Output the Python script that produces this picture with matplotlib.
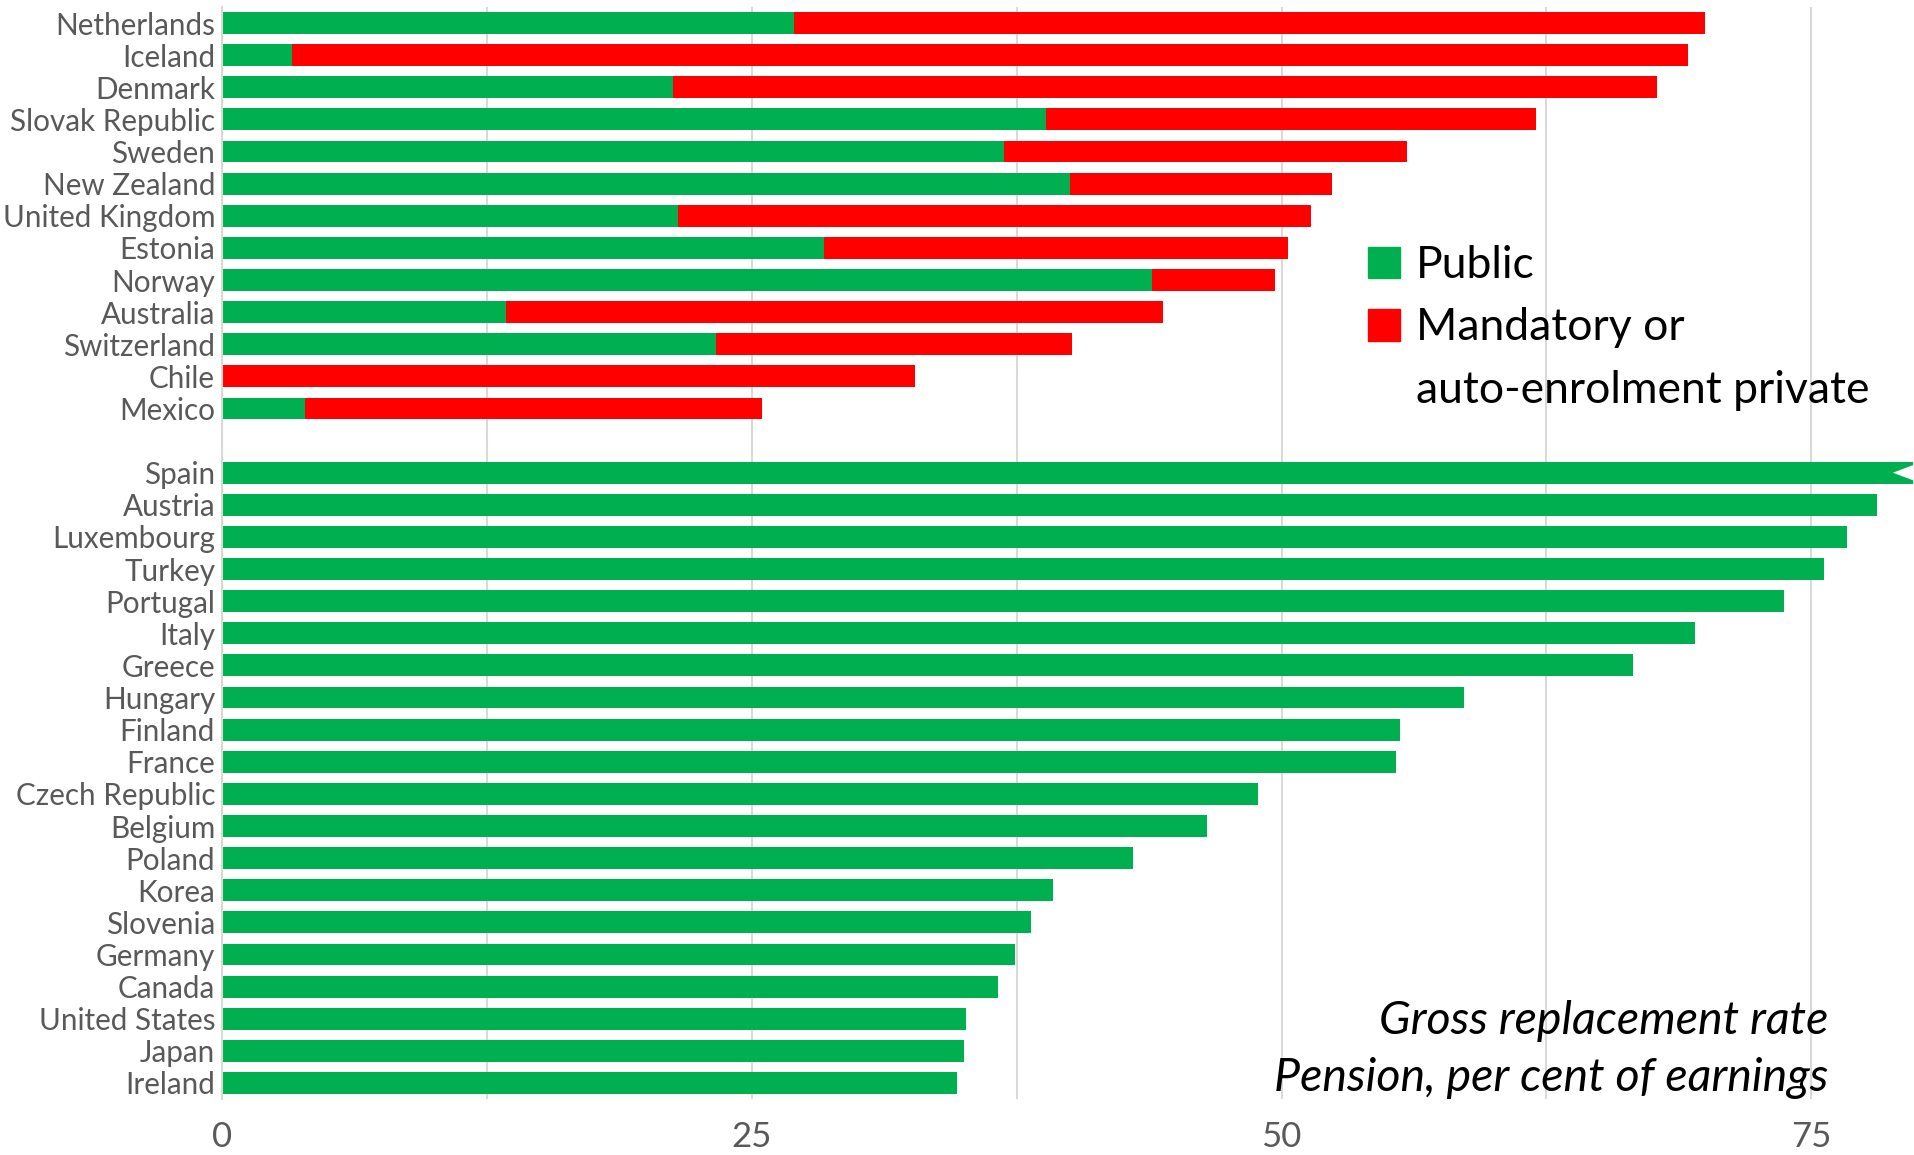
"""
Gross pension replacement rates: public vs mandatory / auto-enrolment private.
Writes out.png.
"""

import matplotlib
matplotlib.use("Agg")
import matplotlib.pyplot as plt
from matplotlib.patches import Polygon, Patch
import numpy as np

plt.rcParams["font.family"] = ["Lato", "DejaVu Sans"]

GREEN = "#00B050"
RED = "#FF0000"
GRID = "#D9D9D9"
LABEL = "#595959"

# countries with a mandatory / auto-enrolment private scheme
mixed_countries = ["Netherlands", "Iceland", "Denmark", "Slovak Republic", "Sweden",
                   "New Zealand", "United Kingdom", "Estonia", "Norway", "Australia",
                   "Switzerland", "Chile", "Mexico"]
mixed_public = [27.0, 3.3, 21.3, 38.9, 36.9, 40.0, 21.5, 28.4, 43.9, 13.4, 23.3, 0.0, 3.9]
mixed_private = [43.0, 65.9, 46.4, 23.1, 19.0, 12.4, 29.9, 21.9, 5.8, 31.0, 16.8, 32.7, 21.6]

# public-only countries
public_countries = ["Spain", "Austria", "Luxembourg", "Turkey", "Portugal", "Italy",
                    "Greece", "Hungary", "Finland", "France", "Czech Republic", "Belgium",
                    "Poland", "Korea", "Slovenia", "Germany", "Canada", "United States",
                    "Japan", "Ireland"]
public_only = [81.8, 78.1, 76.7, 75.6, 73.7, 69.5, 66.6, 58.6, 55.6, 55.4, 48.9, 46.5,
               43.0, 39.2, 38.2, 37.4, 36.6, 35.1, 35.0, 34.7]

XMAX = 79.8
H = 0.68


def main():
    fig = plt.figure(figsize=(19.15, 11.55), dpi=100)
    ax = fig.add_axes([222 / 1915, 56 / 1155, 1691 / 1915, 1092 / 1155])

    n1 = len(mixed_countries)
    y1 = np.arange(n1)
    y2 = np.arange(len(public_countries)) + n1 + 1  # one empty slot between groups

    ax.barh(y1, mixed_public, height=H, color=GREEN, zorder=2)
    ax.barh(y1, mixed_private, left=mixed_public, height=H, color=RED, zorder=2)
    ax.barh(y2, public_only, height=H, color=GREEN, zorder=2)

    # notch marking the truncated Spain bar
    ys = y2[0]
    notch = Polygon([[XMAX + 0.5, ys - H / 2 - 0.02], [XMAX - 0.95, ys],
                     [XMAX + 0.5, ys + H / 2 + 0.02]],
                    closed=True, facecolor="white", edgecolor="none", zorder=3)
    ax.add_patch(notch)

    ax.set_xlim(0, XMAX)
    ax.set_ylim(len(mixed_countries) + len(public_countries) + 0.5, -0.5)

    ax.set_yticks(list(y1) + list(y2))
    ax.set_yticklabels(mixed_countries + public_countries)
    ax.set_xticks([0, 25, 50, 75])
    ax.set_xticks(np.arange(12.5, 80, 25), minor=True)
    ax.tick_params(axis="y", length=0, pad=5, labelsize=21.3, labelcolor=LABEL)
    ax.tick_params(axis="x", which="both", length=0, pad=16, labelsize=25, labelcolor=LABEL)
    ax.grid(axis="x", which="both", color=GRID, lw=1.5, zorder=0)

    for side in ("top", "right", "bottom"):
        ax.spines[side].set_visible(False)
    ax.spines["left"].set_color(GRID)
    ax.spines["left"].set_linewidth(1.5)

    # legend: second line of the red label as an entry with a hidden handle
    handles = [Patch(color=GREEN), Patch(color=RED), Patch(visible=False)]
    labels = ["Public", "Mandatory or", "auto-enrolment private"]
    ax.legend(handles, labels, loc="upper left",
              bbox_to_anchor=(1368 / 1915, 1 - 245 / 1155),
              bbox_transform=fig.transFigure, frameon=False, fontsize=32,
              handlelength=0.72, handleheight=0.72, handletextpad=0.35,
              labelspacing=0.48, borderpad=0, borderaxespad=0)

    fig.text(1828 / 1915, 1 - 1021 / 1155, "Gross replacement rate",
             ha="right", va="center", style="italic", fontsize=33.5, color="black")
    fig.text(1828 / 1915, 1 - 1078 / 1155, "Pension, per cent of earnings",
             ha="right", va="center", style="italic", fontsize=33.5, color="black")

    fig.savefig("out.png", dpi=100)


if __name__ == "__main__":
    main()
